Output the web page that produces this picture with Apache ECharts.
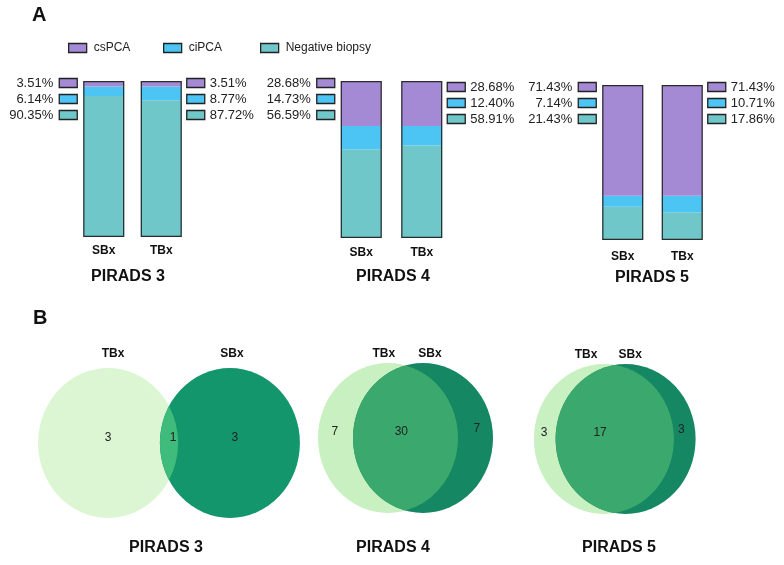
<!DOCTYPE html>
<html>
<head>
<meta charset="utf-8">
<script src="https://cdn.jsdelivr.net/npm/echarts@6/dist/echarts.min.js"></script>
<style>
  html, body { margin: 0; padding: 0; background: #fff; }
  #chart { width: 784px; height: 565px; }
</style>
</head>
<body>
<div id="chart"></div>
<script>
// ---- data ----
const groups = ['PIRADS 3', 'PIRADS 4', 'PIRADS 5']
const methods = ['SBx', 'TBx']
const outcomes = ['csPCA', 'ciPCA', 'Negative biopsy']
// percentages per group, [SBx, TBx]
const csPCA = [[3.51, 3.51], [28.68, 28.68], [71.43, 71.43]]
const ciPCA = [[6.14, 8.77], [14.73, 12.40], [7.14, 10.71]]
const negative = [[90.35, 87.72], [56.59, 58.91], [21.43, 17.86]]

// venn counts per group
const vennSets = ['TBx', 'SBx']
const tbxOnly = [3, 7, 3]
const bothSets = [1, 30, 17]
const sbxOnly = [3, 7, 3]

// ---- layout / style ----
const font = '"Liberation Sans", Arial, Helvetica, sans-serif'
const outcomeColors = ['#a48ad5', '#4cc5f4', '#6fc7ca']
const barGrids = [
  { left: 75, top: 81, width: 115, height: 156 },
  { left: 331, top: 81, width: 121, height: 157 },
  { left: 593, top: 85, width: 119, height: 155 },
]
const barLabelMargin = [8, 9, 11]
const labelDrop = [[0, 0], [0, 4], [0, 0]]
const barWidth = 41

// venn: centre of each diagram (px), circle separation in radius units
const vennCentres = [[169, 443], [405.5, 438], [614.75, 439]]
const vennSep = [1.74, 0.5, 0.31]
const vennCountX = [[-0.87, 0.06, 0.94], [-1.01, -0.06, 1.02], [-1.01, -0.21, 0.95]]
const vennCountY = [[0.07, 0.07, 0.07], [0.08, 0.08, 0.13], [0.08, 0.08, 0.12]]
const vennNameX = [[-0.8, 0.9], [-0.31, 0.35], [-0.41, 0.22]]
const vennNameY = [1.19, 1.12, 1.13]
const vennColors = [
  { a: '#dcf6d4', b: '#13966b', ab: '#3fbb7b' },
  { a: '#c9f0c1', b: '#158762', ab: '#3ba96e' },
  { a: '#c9f0c1', b: '#158762', ab: '#3ba96e' },
]
const RX = 70
const RY = 75

const chart = echarts.init(document.getElementById('chart'))

const grid = []
const xAxis = []
const yAxis = []
const series = []

groups.forEach((g, gi) => {
  grid.push(barGrids[gi])
  xAxis.push({
    type: 'category',
    gridIndex: gi,
    data: methods,
    axisLine: { show: false },
    axisTick: { show: false },
    axisLabel: { margin: barLabelMargin[gi], fontFamily: font, fontSize: 12, fontWeight: 'bold', color: '#111' },
  })
  yAxis.push({ type: 'value', gridIndex: gi, min: 0, max: 100, show: false })

  const stacks = [['Negative biopsy', negative, 2], ['ciPCA', ciPCA, 1], ['csPCA', csPCA, 0]]
  stacks.forEach(([name, arr, ci]) => {
    series.push({
      name,
      type: 'bar',
      xAxisIndex: gi,
      yAxisIndex: gi,
      stack: 'p' + gi,
      barWidth,
      barGap: '-100%',
      silent: true,
      data: arr[gi],
      itemStyle: { color: outcomeColors[ci] },
    })
  })
  series.push({
    name: 'outline',
    type: 'bar',
    xAxisIndex: gi,
    yAxisIndex: gi,
    barWidth,
    barGap: '-100%',
    silent: true,
    z: 5,
    data: methods.map(() => 100),
    itemStyle: { color: 'rgba(0,0,0,0)', borderColor: '#2a2a2a', borderWidth: 1.2 },
  })
})

// venn diagrams
groups.forEach((g, vi) => {
  const gi = 3 + vi
  const [cx, cy] = vennCentres[vi]
  grid.push({ left: cx - 2 * RX, top: cy - 1.2 * RY, width: 4 * RX, height: 2.4 * RY })
  xAxis.push({ type: 'value', gridIndex: gi, min: -2, max: 2, show: false })
  yAxis.push({ type: 'value', gridIndex: gi, min: -1.2, max: 1.2, show: false })
  const counts = [tbxOnly[vi], bothSets[vi], sbxOnly[vi]]
  series.push({
    type: 'custom',
    name: 'venn ' + g,
    xAxisIndex: gi,
    yAxisIndex: gi,
    silent: true,
    data: [[0, 0]],
    renderItem: (params, api) => {
      const sep = vennSep[vi]
      const [x1, y0] = api.coord([-sep / 2, 0])
      const [x2] = api.coord([sep / 2, 0])
      const rx = api.size([1, 0])[0]
      const ry = api.size([0, 1])[1]
      const ellipse = (x) =>
        `M ${x - rx} ${y0} A ${rx} ${ry} 0 1 0 ${x + rx} ${y0} A ${rx} ${ry} 0 1 0 ${x - rx} ${y0} Z`
      const xm = (x1 + x2) / 2
      const dy = ry * Math.sqrt(Math.max(0, 1 - Math.pow((x2 - x1) / 2 / rx, 2)))
      const lens = `M ${xm} ${y0 - dy} A ${rx} ${ry} 0 0 1 ${xm} ${y0 + dy} A ${rx} ${ry} 0 0 1 ${xm} ${y0 - dy} Z`
      const col = vennColors[vi]
      const children = [
        { type: 'path', shape: { pathData: ellipse(x1) }, style: { fill: col.a } },
        { type: 'path', shape: { pathData: ellipse(x2) }, style: { fill: col.b } },
        { type: 'path', shape: { pathData: lens }, style: { fill: col.ab } },
      ]
      counts.forEach((c, k) => {
        const p = api.coord([vennCountX[vi][k], vennCountY[vi][k]])
        children.push({
          type: 'text',
          x: p[0],
          y: p[1],
          style: {
            text: String(c), fill: '#222', font: '12px ' + font,
            align: 'center', verticalAlign: 'middle', textAlign: 'center', textVerticalAlign: 'middle',
          },
        })
      })
      vennSets.forEach((s, k) => {
        const p = api.coord([vennNameX[vi][k], vennNameY[vi]])
        children.push({
          type: 'text',
          x: p[0],
          y: p[1],
          style: {
            text: s, fill: '#111', font: 'bold 12px ' + font,
            align: 'center', verticalAlign: 'middle', textAlign: 'center', textVerticalAlign: 'middle',
          },
        })
      })
      return { type: 'group', children }
    },
  })
})

const titleStyle = (size) => ({ fontFamily: font, fontSize: size, fontWeight: 'bold', color: '#111' })
const title = [
  { text: 'A', left: 32, top: 15, padding: 0, textVerticalAlign: 'middle', textStyle: titleStyle(20) },
  { text: 'B', left: 33, top: 318, padding: 0, textVerticalAlign: 'middle', textStyle: titleStyle(20) },
]
const groupTitlePos = [[128, 277], [393, 277], [652, 278], [166, 548], [393, 548], [619, 548]]
groupTitlePos.forEach(([x, y], i) => {
  title.push({
    text: groups[i % 3], left: x, top: y, padding: 0,
    textAlign: 'center', textVerticalAlign: 'middle', textStyle: titleStyle(16),
  })
})

const legendLeft = [68, 163, 260]
const legend = outcomes.map((name, i) => ({
  data: [name],
  left: legendLeft[i],
  top: 42,
  padding: 0,
  icon: 'rect',
  itemWidth: 18,
  itemHeight: 9,
  itemGap: 0,
  selectedMode: false,
  itemStyle: { borderColor: '#222', borderWidth: 1.3 },
  textStyle: { fontFamily: font, fontSize: 12, color: '#222', padding: [0, 0, 0, 2] },
}))

chart.setOption({
  animation: false,
  backgroundColor: '#fff',
  title,
  legend,
  grid,
  xAxis,
  yAxis,
  series,
})

// percentage labels with swatches beside each bar
const labelGraphics = []
groups.forEach((g, gi) => {
  const top = chart.convertToPixel({ yAxisIndex: gi }, 100)
  methods.forEach((m, mi) => {
    const cx = chart.convertToPixel({ xAxisIndex: gi }, m)
    const values = [csPCA[gi][mi], ciPCA[gi][mi], negative[gi][mi]]
    values.forEach((v, ri) => {
      const y = top + 2 + labelDrop[gi][mi] + ri * 16
      const sx = mi === 0 ? cx - barWidth / 2 - 6 - 18 : cx + barWidth / 2 + 5
      labelGraphics.push({
        type: 'rect',
        shape: { x: sx, y: y - 4.5, width: 18, height: 9 },
        style: { fill: outcomeColors[ri], stroke: '#222', lineWidth: 1.3 },
      })
      labelGraphics.push({
        type: 'text',
        x: mi === 0 ? sx - 6 : sx + 23,
        y,
        style: {
          text: v.toFixed(2) + '%', fill: '#222', font: '13px ' + font,
          align: mi === 0 ? 'right' : 'left', verticalAlign: 'middle',
          textAlign: mi === 0 ? 'right' : 'left', textVerticalAlign: 'middle',
        },
      })
    })
  })
})
chart.setOption({ graphic: labelGraphics })
</script>
</body>
</html>
